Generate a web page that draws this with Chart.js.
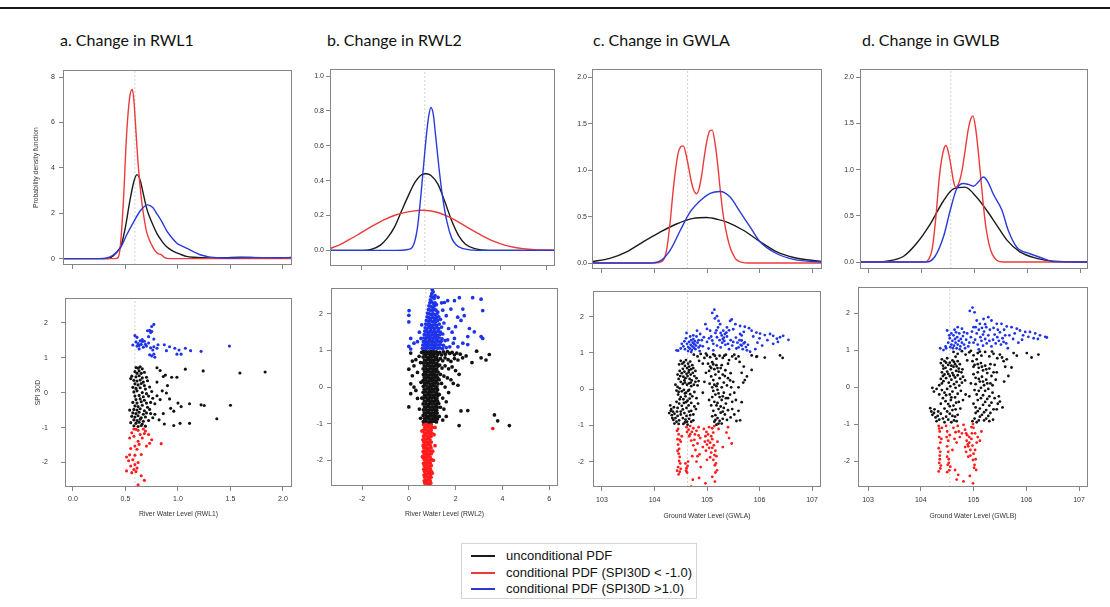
<!DOCTYPE html>
<html lang="en">
<head>
<meta charset="utf-8">
<title>Water level response to SPI30D</title>
<script src="https://cdn.jsdelivr.net/npm/chart.js@4.4.1/dist/chart.umd.min.js"></script>
<style>
  html, body { margin: 0; padding: 0; background: #fff; }
  body { position: relative; width: 1110px; height: 607px; overflow: hidden; }
  #rule { position: absolute; left: 0; top: 7px; width: 1110px; height: 2px; background: #1a1a1a; }
  .panel-title { position: absolute; top: 31px; font: 16px Lato, 'Open Sans', sans-serif; line-height: 18px; color: #111; white-space: nowrap; }
  canvas { position: absolute; }
  #legend { position: absolute; left: 461px; top: 543px; width: 236px; height: 56px; box-sizing: border-box; border: 1px solid #d4d4d4; font: 13px 'Liberation Sans', Arial, sans-serif; color: #111; }
  #legend .row { position: absolute; left: 0; height: 16px; line-height: 16px; white-space: nowrap; }
  #legend .swatch { position: absolute; left: 9px; top: 7px; width: 24px; height: 2px; }
  #legend .label { position: absolute; left: 44px; top: 0; }
</style>
</head>
<body>
<div id="rule"></div>
<div id="legend"></div>
<script>
// ---------- titles, axis labels, legend ----------
const panelTitles = ['a. Change in RWL1', 'b. Change in RWL2', 'c. Change in GWLA', 'd. Change in GWLB'];
const xAxisTitles = ['River Water Level (RWL1)', 'River Water Level (RWL2)', 'Ground Water Level (GWLA)', 'Ground Water Level (GWLB)'];
const densityTitle = 'Probability density function';
const spiTitle = 'SPI 30D';
const seriesNames = ['unconditional PDF', 'conditional PDF (SPI30D < -1.0)', 'conditional PDF (SPI30D >1.0)'];

// ---------- tick labels ----------
const rwl1Ticks = ['0.0', '0.5', '1.0', '1.5', '2.0'];
const rwl2Ticks = ['-2', '0', '2', '4', '6'];
const gwlTicks = ['103', '104', '105', '106', '107'];
const densTicksRwl1 = ['0', '2', '4', '6', '8'];
const densTicksRwl2 = ['0.0', '0.2', '0.4', '0.6', '0.8', '1.0'];
const densTicksGwl = ['0.0', '0.5', '1.0', '1.5', '2.0'];
const spiTicks = ['-2', '-1', '0', '1', '2'];

// ---------- reference level (dotted vertical line) per variable ----------
const refLevels = [0.59, 0.73, 104.63, 104.55];

// ---------- density curves, flat [x, density, x, density, ...] ----------
const rwl1Uncond = [-0.1,0, .30,0, .36,.05, .41,.25, .46,.6, .50,1.4, .54,2.5, .58,3.4, .61,3.7, .64,3.45, .67,2.85, .70,2.25, .72,1.96, .76,1.5, .80,1.1, .85,.75, .89,.53, .94,.36, .99,.25, 1.04,.16, 1.08,.1, 1.15,.06, 1.3,.03, 1.45,.04, 1.6,.06, 1.75,.04, 1.9,.03, 2.0,.04, 2.09,.05];
const rwl1Dry = [-0.1,0, .40,0, .43,.05, .45,.5, .48,2.5, .51,5.4, .54,7.1, .565,7.45, .58,7.0, .60,5.6, .62,4.2, .65,2.7, .67,2.0, .70,1.2, .73,.8, .75,.6, .78,.35, .81,.22, .84,.18, .87,.06, .90,.01, .95,0, 2.09,0];
const rwl1Wet = [-0.1,0, .25,0, .32,.03, .38,.15, .45,.46, .51,1.03, .57,1.55, .64,2.1, .71,2.37, .76,2.25, .80,1.97, .85,1.6, .89,1.25, .94,.93, .99,.68, 1.04,.55, 1.08,.46, 1.15,.3, 1.21,.17, 1.28,.09, 1.34,.05, 1.5,.03, 1.7,.05, 1.9,.04, 2.09,.05];

const rwl2Uncond = [-3.4,0, -2,0, -1.6,.005, -1.2,.03, -.9,.07, -.6,.13, -.3,.22, 0,.31, .3,.39, .6,.435, .8,.44, 1.0,.43, 1.3,.38, 1.6,.28, 1.9,.17, 2.2,.085, 2.5,.035, 2.9,.01, 3.5,0, 6.4,0];
const rwl2Dry = [-3.4,.01, -3,.03, -2.6,.058, -2.2,.088, -1.8,.12, -1.4,.15, -1.0,.178, -.6,.2, -.2,.215, .2,.225, .6,.23, 1.0,.226, 1.4,.213, 1.8,.19, 2.2,.162, 2.6,.13, 3.0,.1, 3.4,.072, 3.8,.048, 4.2,.03, 4.6,.018, 5.0,.01, 5.5,.004, 6.4,.001];
const rwl2Wet = [-3.4,0, -.5,0, 0,.005, .2,.02, .4,.12, .55,.3, .7,.52, .8,.66, .9,.77, 1.0,.82, 1.1,.78, 1.2,.66, 1.35,.47, 1.5,.31, 1.7,.16, 1.9,.07, 2.1,.03, 2.4,.01, 3,0, 6.4,0];

const gwlaUncond = [102.8,.015, 103.15,.05, 103.47,.12, 103.79,.23, 104.1,.33, 104.42,.42, 104.74,.48, 104.99,.49, 105.2,.47, 105.38,.44, 105.7,.35, 106.01,.23, 106.33,.12, 106.65,.06, 106.9,.035, 107.2,.015];
const gwlaDry = [102.8,0, 104.0,0, 104.15,.02, 104.23,.14, 104.30,.45, 104.35,.75, 104.40,1.0, 104.45,1.18, 104.50,1.25, 104.55,1.26, 104.60,1.17, 104.65,1.03, 104.70,.88, 104.75,.78, 104.80,.745, 104.85,.8, 104.90,.95, 104.95,1.15, 105.0,1.32, 105.05,1.42, 105.10,1.43, 105.15,1.3, 105.20,1.08, 105.25,.8, 105.30,.55, 105.35,.38, 105.40,.25, 105.45,.15, 105.50,.09, 105.55,.04, 105.65,.01, 105.8,0, 107.2,0];
const gwlaWet = [102.8,0, 103.9,0, 104.1,.02, 104.3,.14, 104.49,.35, 104.68,.55, 104.87,.67, 105.06,.75, 105.25,.77, 105.44,.71, 105.63,.55, 105.82,.39, 106.01,.23, 106.33,.1, 106.65,.04, 107.2,.01];

const gwlbUncond = [102.8,0, 103.1,0, 103.34,.01, 103.65,.06, 103.9,.2, 104.16,.41, 104.41,.66, 104.6,.79, 104.82,.81, 105.04,.70, 105.23,.56, 105.42,.40, 105.61,.24, 105.86,.11, 106.18,.04, 106.49,.01, 107.2,0];
const gwlbDry = [102.8,0, 104.05,0, 104.12,.02, 104.20,.15, 104.27,.5, 104.33,.9, 104.38,1.12, 104.43,1.24, 104.46,1.26, 104.50,1.2, 104.55,1.05, 104.60,.88, 104.64,.81, 104.70,.85, 104.76,.98, 104.82,1.2, 104.88,1.43, 104.93,1.55, 104.97,1.58, 105.02,1.45, 105.07,1.2, 105.12,.9, 105.17,.6, 105.22,.36, 105.28,.18, 105.34,.08, 105.42,.02, 105.55,0, 107.2,0];
const gwlbWet = [102.8,0, 104.09,0, 104.25,.06, 104.41,.27, 104.54,.56, 104.66,.79, 104.79,.85, 104.88,.84, 104.98,.82, 105.08,.87, 105.17,.92, 105.25,.87, 105.36,.73, 105.52,.56, 105.64,.34, 105.80,.16, 106.05,.09, 106.30,.04, 106.49,.005, 107.2,0];

// ---------- daily observations, flat [level, SPI30D, ...] ----------
const rwl1Wet_pts = [.59,1.63, .61,1.58, .60,1.45, .62,1.40, .63,1.35, .61,1.33, .64,1.48, .66,1.46, .68,1.47, .65,1.38, .67,1.30, .70,1.33, .72,1.42, .71,1.77, .73,1.78, .74,1.72, .75,1.89, .77,1.95, .75,1.75, .77,1.53, .77,1.31, .74,1.28, .76,1.22, .80,1.27, .75,1.05, .77,1.10, .78,1.01, .73,1.08, .81,1.37, .87,1.37, .89,1.20, .92,1.31, .97,1.27, 1.01,1.22, .99,1.10, 1.03,1.10, 1.07,1.27, 1.12,1.20, 1.22,1.18, 1.49,1.33, .63,1.25, .69,1.38, .57,1.36, .66,1.52, .72,1.60];
const rwl1Mid_pts = [.60,.72, .62,.70, .64,.74, .66,.68, .59,.60, .63,.62, .61,.55, .65,.55, .68,.58, .56,.47, .60,.45, .63,.48, .66,.42, .70,.44, .58,.35, .61,.33, .64,.36, .67,.30, .71,.34, .59,.25, .62,.22, .65,.26, .68,.20, .57,.15, .60,.12, .64,.14, .69,.10, .73,.16, .58,.02, .61,.05, .66,0, .70,-.03, .75,.03, .59,-.10, .63,-.08, .67,-.12, .72,-.10, .60,-.20, .64,-.18, .68,-.22, .76,-.16, .57,-.28, .61,-.30, .65,-.26, .70,-.30, .74,-.28, .78,-.32, .59,-.38, .62,-.40, .66,-.36, .71,-.42, .58,-.48, .61,-.50, .64,-.46, .68,-.52, .73,-.48, .57,-.58, .60,-.60, .63,-.56, .67,-.62, .70,-.58, .56,-.68, .59,-.70, .62,-.66, .65,-.72, .69,-.70, .58,-.78, .61,-.80, .64,-.76, .67,-.82, .55,-.86, .60,-.88, .63,-.85, .66,-.90, .58,-.95, .62,-.97, .65,-.94, .69,-.96, .54,-.50, .55,.40, .74,-.60, .76,-.72, .72,-.80,
  .80,.71, .83,.63, .86,.46, .88,.50, .94,.44, .99,.44, 1.07,.67, 1.24,.62, 1.59,.56, 1.83,.59, .80,-.09, .83,-.20, .89,-.01, .93,-.45, .96,-.53, 1.0,-.30, 1.03,-.40, 1.11,-.32, 1.22,-.35, 1.25,-.37, 1.50,-.36, 1.37,-.75, 1.11,-.88, 1.02,-.88, .96,-.94, .87,-.90, .82,-.78, .78,-.62, .85,.05, .80,.30, .90,.20, .86,-.60, .92,-.18];
const rwl1Dry_pts = [.58,-1.04, .60,-1.05, .62,-1.08, .67,-1.04, .69,-1.10, .68,-1.17, .72,-1.20, .54,-1.30, .58,-1.25, .62,-1.39, .66,-1.30, .75,-1.35, .59,-1.53, .63,-1.48, .70,-1.53, .73,-1.45, .84,-1.46, .55,-1.60, .61,-1.62, .51,-1.84, .54,-1.78, .59,-1.79, .65,-1.77, .57,-1.92, .59,-2.06, .62,-2.00, .55,-2.10, .51,-2.24, .56,-2.29, .58,-2.20, .61,-2.16, .60,-2.26, .65,-2.38, .68,-2.51, .62,-2.64, .53,-1.95, .64,-1.20, .56,-1.15];

const rwl2Wet_pts = [1.0,2.66, 1.04,2.6, .98,2.55, .95,2.48, 1.02,2.45, 1.08,2.42, .92,2.38, 1.12,2.5,
  .9,2.3, .98,2.33, 1.05,2.28, 1.12,2.3, .86,2.22, .95,2.2, 1.02,2.18, 1.1,2.22, 1.18,2.25,
  .84,2.12, .92,2.1, 1.0,2.08, 1.08,2.12, 1.16,2.1, 1.24,2.05, .8,2.02, .88,2.0, .96,1.98, 1.04,2.0, 1.12,1.97, 1.2,2.0,
  .78,1.92, .86,1.9, .94,1.88, 1.02,1.9, 1.1,1.87, 1.18,1.9, 1.28,1.92, .75,1.82, .83,1.8, .91,1.82, .99,1.79, 1.07,1.8, 1.15,1.78, 1.23,1.82, 1.35,1.85,
  .72,1.72, .8,1.7, .88,1.72, .96,1.68, 1.04,1.7, 1.12,1.7, 1.2,1.68, 1.3,1.72, .7,1.62, .78,1.6, .86,1.63, .94,1.6, 1.02,1.62, 1.1,1.6, 1.18,1.62, 1.28,1.6, 1.4,1.64,
  .68,1.53, .76,1.52, .84,1.5, .92,1.53, 1.0,1.5, 1.08,1.52, 1.16,1.5, 1.25,1.53, 1.35,1.5, .66,1.43, .74,1.42, .82,1.44, .9,1.41, .98,1.43, 1.06,1.42, 1.14,1.44, 1.22,1.41, 1.32,1.43, 1.45,1.45,
  .64,1.34, .72,1.33, .8,1.35, .88,1.32, .96,1.34, 1.04,1.33, 1.12,1.35, 1.2,1.32, 1.3,1.34, 1.42,1.32, .62,1.24, .7,1.25, .78,1.23, .86,1.26, .94,1.24, 1.02,1.25, 1.1,1.23, 1.18,1.26, 1.27,1.24, 1.38,1.25, 1.55,1.27,
  .6,1.15, .68,1.16, .76,1.14, .84,1.17, .92,1.15, 1.0,1.16, 1.08,1.14, 1.16,1.17, 1.25,1.15, 1.35,1.16, 1.48,1.14, .58,1.06, .66,1.07, .74,1.05, .82,1.08, .9,1.06, .98,1.07, 1.06,1.05, 1.14,1.08, 1.22,1.06, 1.32,1.07, 1.44,1.05, 1.6,1.08, 1.75,1.1,
  2.73,2.44, 3.09,2.40, 3.16,2.09, 2.16,2.44, 2.31,2.13, 1.95,2.36, 1.52,2.31, 1.66,2.36, 1.8,2.13, 2.09,1.91, 2.23,1.82, 2.37,1.95, 2.59,1.6, 2.8,1.51, 3.09,1.38, 3.16,1.33, 2.52,1.38, 2.31,1.2, 1.95,1.33, 1.66,1.29, 2.52,1.16, 1.45,2.1, 1.6,1.95, 1.5,1.75, 1.7,1.6, 1.85,1.5, 2.0,1.65, 1.9,1.2, 2.1,1.1, 1.4,2.3, 1.25,2.45,
  .01,2.09, 0,1.96, 0,1.78, .08,1.33, 0,1.11, .08,1.04, .22,1.2, .37,1.24, .52,1.33, .45,1.5, .55,1.7];
const rwl2Mid_pts = [.62,.97, .72,.98, .84,.96, .95,.97, 1.06,.98, 1.18,.96,
  .66,.90, .78,.91, .90,.89, 1.01,.90, 1.12,.91, 1.24,.89,
  .61,.82, .73,.83, .85,.81, .96,.82, 1.08,.83, 1.19,.81,
  .67,.74, .79,.75, .90,.73, 1.02,.74, 1.13,.75, 1.25,.73,
  .62,.66, .74,.67, .85,.65, .97,.66, 1.08,.67, 1.20,.65,
  .66,.58, .78,.59, .89,.57, 1.01,.58, 1.13,.59, 1.24,.57,
  .61,.50, .73,.51, .85,.49, .96,.50, 1.08,.51, 1.19,.49,
  .67,.42, .79,.43, .90,.41, 1.02,.42, 1.14,.43, 1.25,.41,
  .62,.34, .74,.35, .86,.33, .97,.34, 1.09,.35, 1.20,.33,
  .66,.26, .78,.27, .89,.25, 1.01,.26, 1.13,.27, 1.24,.25,
  .61,.18, .73,.19, .85,.17, .96,.18, 1.08,.19, 1.19,.17,
  .67,.10, .79,.11, .90,.09, 1.02,.10, 1.14,.11, 1.25,.09,
  .62,.02, .74,.03, .86,.01, .97,.02, 1.09,.03, 1.20,.01,
  .66,-.06, .78,-.05, .89,-.07, 1.01,-.06, 1.13,-.05, 1.23,-.07,
  .61,-.14, .73,-.13, .85,-.15, .96,-.14, 1.08,-.13, 1.19,-.15,
  .67,-.22, .79,-.21, .90,-.23, 1.02,-.22, 1.14,-.21, 1.24,-.23,
  .62,-.30, .74,-.29, .86,-.31, .97,-.30, 1.09,-.29, 1.20,-.31,
  .66,-.38, .78,-.37, .89,-.39, 1.01,-.38, 1.13,-.37, 1.23,-.39,
  .61,-.46, .73,-.45, .85,-.47, .96,-.46, 1.08,-.45, 1.18,-.47,
  .67,-.54, .79,-.53, .90,-.55, 1.02,-.54, 1.14,-.53, 1.22,-.55,
  .62,-.62, .74,-.61, .86,-.63, .97,-.62, 1.09,-.61, 1.19,-.63,
  .66,-.70, .78,-.69, .89,-.71, 1.01,-.70, 1.13,-.69, 1.21,-.71,
  .61,-.78, .73,-.77, .85,-.79, .96,-.78, 1.08,-.77, 1.17,-.79,
  .67,-.86, .79,-.85, .90,-.87, 1.02,-.86, 1.14,-.85, 1.22,-.87,
  .62,-.94, .74,-.93, .86,-.95, .97,-.94, 1.09,-.93, 1.18,-.95,
  1.32,.95, 1.40,.88, 1.48,.96, 1.56,.90, 1.65,.97, 1.75,.92, 1.85,.95, 1.95,.88, 2.05,.93, 2.2,.9, 1.35,.78, 1.45,.72, 1.55,.80, 1.68,.75, 1.8,.70, 1.95,.78, 2.1,.74, 2.3,.80, 2.45,.85, 1.32,.6, 1.42,.52, 1.55,.58, 1.7,.5, 1.85,.55, 2.0,.45, 2.15,.35, 1.35,.35, 1.5,.30, 1.65,.25, 1.8,.2, 1.4,.1, 1.55,0, 1.3,-.2, 1.45,-.3, 1.6,-.4, 1.35,-.55, 1.5,-.6, 1.3,-.8, 1.45,-.9, 1.6,-.8, 1.7,-.15, 1.9,.1, 2.1,.05, 1.3,.2, 1.28,-.45,
  .08,.93, .15,.71, 0,.49, .15,.31, .08,.09, .22,0, .30,-.09, .08,-.18, 0,-.54, .37,.4, .44,.84, .52,.13, .37,-.31, .5,.67, .22,.58, .45,-.6, .5,-.85, .55,.95, .3,.75, .55,-.3,
  3.66,-.76, 3.80,-.92, 4.3,-1.05, 2.23,-.65, 2.52,-.64, 2.15,-1.05, 3.09,.8, 3.30,.74, 3.44,.89, 2.7,.67, 2.9,.98];
const rwl2Dry_pts = [.63,-1.02, .74,-1.01, .85,-1.03, .96,-1.02,
  .68,-1.10, .79,-1.09, .90,-1.11, 1.01,-1.10,
  .62,-1.18, .73,-1.17, .84,-1.19, .95,-1.18,
  .67,-1.26, .78,-1.25, .89,-1.27, .99,-1.26,
  .63,-1.34, .74,-1.33, .85,-1.35, .95,-1.34,
  .68,-1.42, .79,-1.41, .90,-1.43, .60,-1.44,
  .64,-1.50, .75,-1.49, .86,-1.51, .96,-1.50,
  .69,-1.58, .80,-1.57, .91,-1.59, .61,-1.60,
  .64,-1.66, .75,-1.65, .86,-1.67, .95,-1.66,
  .69,-1.74, .80,-1.73, .90,-1.75, .61,-1.76,
  .65,-1.82, .76,-1.81, .87,-1.83, .96,-1.82,
  .70,-1.90, .81,-1.89, .91,-1.91, .62,-1.92,
  .66,-1.98, .77,-1.97, .88,-1.99, .97,-1.98,
  .71,-2.06, .82,-2.05, .92,-2.07, .63,-2.08,
  .66,-2.14, .77,-2.13, .88,-2.15, .96,-2.14,
  .71,-2.22, .82,-2.21, .92,-2.23, .64,-2.24,
  .67,-2.30, .78,-2.29, .88,-2.31, .96,-2.30,
  .72,-2.38, .82,-2.37, .92,-2.39, .65,-2.40,
  .68,-2.46, .78,-2.45, .88,-2.47, .95,-2.46,
  .72,-2.54, .82,-2.53, .91,-2.55, .66,-2.56,
  .68,-2.62, .78,-2.61, .87,-2.63, .94,-2.62,
  .73,-2.70, .83,-2.69,
  1.08,-1.3, 1.12,-1.6, 1.05,-2.0, 1.12,-1.1, 1.02,-1.75, 1.0,-2.35, .56,-1.2, .58,-1.9, 3.59,-1.13];

const gwlaWet_pts = [104.42,1.07, 104.45,1.06, 104.50,1.12, 104.55,1.18, 104.58,1.10, 104.61,1.55, 104.62,1.25, 104.64,1.16, 104.66,1.30, 104.67,1.12, 104.69,1.22, 104.70,1.35, 104.71,1.08, 104.72,1.18, 104.73,1.28, 104.74,1.38, 104.75,1.14, 104.76,1.24, 104.77,1.32, 104.78,1.10, 104.79,1.20, 104.80,1.45, 104.81,1.61, 104.82,1.28, 104.84,1.15, 104.86,1.05, 104.87,1.20, 104.87,1.52, 104.90,1.35, 104.94,1.43, 104.60,1.40, 104.68,1.45, 104.57,1.32, 104.52,1.25,
  104.97,1.79, 105.00,1.66, 105.00,1.30, 105.03,1.12, 105.06,1.61, 105.08,1.45, 105.10,1.34, 105.10,2.10, 105.12,1.07, 105.14,2.19, 105.15,1.95, 105.16,1.55, 105.19,1.20, 105.19,1.43, 105.19,2.01, 105.21,1.70, 105.22,1.88, 105.24,1.35, 105.25,1.79, 105.26,1.15, 105.28,1.48, 105.29,1.28, 105.30,1.38, 105.31,1.61, 105.32,1.42, 105.33,1.33, 105.35,1.22, 105.37,1.56, 105.38,1.45, 105.40,1.25, 105.42,1.10, 105.44,1.88, 105.45,1.35, 105.47,1.92, 105.48,1.20, 105.50,1.65, 105.54,1.79, 105.55,1.42,
  105.58,1.28, 105.60,1.15, 105.62,1.35, 105.63,1.52, 105.63,1.74, 105.64,1.22, 105.66,1.20, 105.66,1.34, 105.68,1.10, 105.70,1.26, 105.72,1.29, 105.72,1.72, 105.74,1.16, 105.76,1.07, 105.78,1.22, 105.80,1.68, 105.82,1.03, 105.85,1.61,
  105.94,1.56, 106.01,1.53, 106.10,1.49, 106.20,1.52, 106.26,1.47, 106.26,1.25, 106.33,1.39, 106.39,1.43, 106.45,1.47, 106.55,1.36, 106.15,1.35, 106.05,1.20, 105.92,1.10,
  104.64,1.05, 104.70,1.02, 104.74,1.48, 104.84,1.35, 104.92,1.18, 105.04,1.40, 105.12,1.25, 105.18,1.62, 105.26,1.55, 105.34,1.52, 105.38,1.70, 105.42,1.62, 105.50,1.30, 105.56,1.12, 105.66,1.48, 105.70,1.58, 105.88,1.45, 106.00,1.40, 105.96,1.28, 106.35,1.30];
const gwlaMid_pts = [104.50,.78, 104.56,.74, 104.60,.80, 104.64,.70, 104.68,.76, 104.72,.66, 104.58,.64, 104.62,.58, 104.66,.62, 104.70,.55, 104.54,.56, 104.48,.50, 104.52,.44, 104.57,.48, 104.61,.42, 104.65,.46, 104.69,.40, 104.73,.45, 104.76,.36, 104.55,.34, 104.59,.30, 104.63,.36, 104.67,.28, 104.71,.24, 104.80,.30, 104.84,.22, 104.46,.28, 104.50,.20, 104.54,.14, 104.58,.18, 104.62,.12, 104.66,.16, 104.70,.08, 104.75,.12, 104.44,.06, 104.48,.02, 104.40,.12, 104.42,-.04,
  104.52,-.06, 104.56,-.02, 104.60,-.10, 104.64,-.05, 104.68,-.14, 104.72,-.20, 104.45,-.15, 104.50,-.22, 104.55,-.28, 104.59,-.20, 104.63,-.32, 104.67,-.26, 104.42,-.35, 104.47,-.40, 104.52,-.46, 104.56,-.38, 104.61,-.52, 104.65,-.45, 104.70,-.60, 104.74,-.70, 104.57,-.66, 104.61,-.74, 104.66,-.82, 104.70,-.90, 104.58,-.92, 104.63,-.98, 104.54,-.80, 104.79,-.55, 104.83,-.40,
  104.30,-.45, 104.32,-.55, 104.35,-.62, 104.33,-.72, 104.38,-.68, 104.40,-.80, 104.44,-.74, 104.36,-.85, 104.42,-.90, 104.47,-.86, 104.50,-.62, 104.28,-.66,
  104.47,.68, 104.53,.70, 104.66,.52, 104.74,.58, 104.78,.50, 104.44,.40, 104.49,.36, 104.57,.24, 104.69,.18, 104.78,.20, 104.82,.10, 104.46,-.08, 104.58,-.12, 104.66,-.02, 104.76,-.08, 104.80,-.25, 104.48,-.28, 104.60,-.36, 104.70,-.38, 104.76,-.48, 104.44,-.52, 104.54,-.56, 104.66,-.62, 104.50,-.70, 104.59,-.84, 104.68,-.72, 104.74,-.86, 104.62,-.90, 104.55,-.96, 104.46,-.96, 104.38,-.95, 104.34,-.80, 104.31,-.60, 104.37,-.50, 104.43,-.62,
  105.02,.70, 105.06,.62, 105.10,.74, 105.14,.55, 105.18,.66, 105.22,.48, 105.26,.58, 105.30,.40, 105.35,.52, 105.40,.30, 105.45,.44, 105.50,.20, 105.08,.35, 105.12,.25, 105.16,.40, 105.20,.15, 105.24,.30, 105.28,.05, 105.32,.18, 105.12,-.05, 105.16,-.15, 105.20,-.02, 105.24,-.22, 105.28,-.30, 105.32,-.10, 105.36,-.40, 105.40,-.25, 105.48,-.35, 105.55,-.30, 105.14,-.35, 105.18,-.45, 105.22,-.55, 105.26,-.48, 105.30,-.62, 105.34,-.70, 105.12,-.60, 105.16,-.72, 105.20,-.80, 105.24,-.88, 105.28,-.95, 105.14,-.90, 105.18,-.98, 105.38,-.85, 105.45,-.78, 105.56,-.88, 105.63,-.86, 105.10,.05, 105.05,.15, 104.98,.45, 104.95,.20, 104.92,-.10,
  105.04,.50, 105.08,.58, 105.12,.68, 105.20,.58, 105.28,.66, 105.34,.36, 105.44,.24, 105.38,.10, 105.46,.05, 105.52,-.10, 105.44,-.15, 105.36,-.25, 105.30,-.20, 105.22,-.12, 105.18,.08, 105.14,.12, 105.10,-.22, 105.20,-.38, 105.26,-.65, 105.32,-.52, 105.40,-.58, 105.48,-.55, 105.52,-.70, 105.30,-.82, 105.22,-.95, 105.16,-.85, 105.10,-.75, 105.08,-.45, 105.04,-.30, 105.60,-.60,
  104.75,.95, 104.82,.90, 104.88,.97, 104.95,.86, 105.00,.93, 105.06,.88, 105.12,.96, 105.18,.84, 105.24,.92, 105.30,.86, 105.36,.95, 105.42,.80, 105.48,.90, 105.55,.84, 105.62,.75, 105.70,.62, 105.76,.35, 105.69,.18, 105.66,-.36, 104.85,.78, 104.92,.70, 105.40,.70,
  104.98,.98, 105.15,.92, 105.33,.92, 105.52,.95, 105.60,.90, 105.66,.45, 105.72,.25, 105.60,.05,
  105.85,.93, 105.94,.89, 106.10,.87, 106.39,.93, 106.44,.86, 105.85,.53, 105.95,.90];
const gwlaDry_pts = [104.45,-1.10, 104.46,-1.25, 104.44,-1.38, 104.45,-1.53, 104.47,-1.65, 104.46,-1.78, 104.48,-1.87, 104.47,-1.98, 104.45,-2.15, 104.48,-2.28, 104.50,-2.20, 104.43,-2.25, 104.50,-1.45, 104.52,-1.30,
  104.59,-2.05, 104.61,-2.18, 104.62,-2.30, 104.63,-2.12, 104.60,-2.25, 104.64,-2.00,
  104.61,-1.05, 104.65,-1.12, 104.68,-1.02, 104.71,-1.18, 104.74,-1.08, 104.77,-1.25, 104.80,-1.15, 104.84,-1.05, 104.87,-1.35, 104.66,-1.30, 104.70,-1.42, 104.74,-1.55, 104.78,-1.68, 104.82,-1.50, 104.86,-1.80, 104.72,-1.85, 104.80,-2.00, 104.88,-2.15, 104.92,-1.60,
  104.94,-1.10, 104.97,-1.30, 105.00,-1.53, 105.02,-1.42, 105.04,-1.62, 105.06,-1.48, 105.08,-1.75, 105.10,-1.08, 105.12,-1.20, 105.14,-1.02, 105.10,-1.38, 105.13,-1.55, 105.16,-1.70, 105.18,-1.85, 105.12,-1.95, 105.15,-2.10, 105.19,-2.24, 105.17,-2.05, 105.06,-1.88, 105.02,-1.25, 104.98,-1.70,
  105.37,-1.20, 105.42,-1.35, 105.47,-1.50, 105.40,-1.05, 105.30,-1.60,
  104.43,-1.15, 104.48,-1.40, 104.44,-1.70, 104.49,-2.05, 104.46,-2.35, 104.62,-1.18, 104.68,-1.25, 104.76,-1.40, 104.84,-1.28, 104.82,-1.85, 104.96,-1.45, 104.99,-1.18, 105.04,-1.05, 105.08,-1.30, 105.14,-1.82, 105.10,-1.62, 105.20,-1.45, 105.22,-1.10, 105.16,-2.30, 105.00,-1.95,
  104.73,-2.50, 104.97,-2.60, 104.70,-2.69, 105.10,-2.42, 104.85,-2.45, 105.15,-2.55];

const gwlbWet_pts = [104.37,1.05, 104.43,1.00, 104.47,1.10, 104.50,1.53, 104.52,1.20, 104.55,1.32, 104.56,1.08, 104.58,1.15, 104.60,1.25, 104.62,1.40, 104.63,1.12, 104.65,1.30, 104.66,1.20, 104.68,1.05, 104.69,1.35, 104.70,1.15, 104.72,1.25, 104.73,1.45, 104.75,1.10, 104.76,1.30, 104.78,1.20, 104.80,1.38, 104.82,1.15, 104.84,1.05, 104.86,1.28, 104.64,1.55, 104.70,1.62, 104.58,1.45, 104.88,1.45, 104.78,1.58,
  104.93,2.06, 104.98,2.15, 105.02,2.02, 104.92,1.20, 104.95,1.35, 104.97,1.50, 105.00,1.62, 105.03,1.28, 105.06,1.80, 105.06,1.45, 105.08,1.15, 105.10,1.55, 105.12,1.71, 105.13,1.35, 105.15,1.25, 105.16,1.60, 105.18,1.42, 105.19,1.84, 105.20,1.50, 105.22,1.30, 105.24,1.62, 105.25,1.18, 105.28,1.89, 105.28,1.40, 105.31,1.55, 105.34,1.80, 105.34,1.10,
  105.37,1.28, 105.40,1.42, 105.42,1.18, 105.44,1.71, 105.45,1.35, 105.48,1.25, 105.50,1.48, 105.52,1.15, 105.53,1.71, 105.55,1.32, 105.57,1.22, 105.60,1.40, 105.62,1.18, 105.63,1.64, 105.65,1.05,
  105.72,1.62, 105.82,1.58, 105.88,1.53, 105.94,1.40, 105.98,1.49, 106.04,1.36, 106.07,1.49, 106.14,1.32, 106.17,1.45, 106.26,1.40, 106.36,1.36, 106.39,1.34, 105.75,1.30, 105.85,1.20,
  104.48,1.05, 104.54,1.40, 104.61,1.05, 104.67,1.48, 104.74,1.02, 104.82,1.48, 104.90,1.10, 105.00,1.20, 105.04,1.62, 105.10,1.02, 105.18,1.12, 105.22,1.70, 105.30,1.25, 105.38,1.60, 105.46,1.55, 105.58,1.55, 105.68,1.40, 105.78,1.45, 105.92,1.28, 106.22,1.30];
const gwlbMid_pts = [104.40,.75, 104.45,.70, 104.50,.78, 104.55,.66, 104.60,.72, 104.65,.62, 104.70,.70, 104.42,.58, 104.47,.52, 104.52,.60, 104.57,.48, 104.62,.55, 104.67,.44, 104.72,.50, 104.77,.40, 104.40,.40, 104.45,.34, 104.50,.42, 104.55,.30, 104.60,.38, 104.65,.26, 104.70,.32, 104.75,.22, 104.80,.28, 104.38,.22, 104.43,.16, 104.48,.24, 104.53,.12, 104.58,.20, 104.63,.08, 104.68,.14, 104.73,.04, 104.35,.05, 104.30,-.05, 104.25,-.12, 104.22,-.02,
  104.40,-.08, 104.45,-.15, 104.50,-.05, 104.55,-.20, 104.60,-.12, 104.65,-.28, 104.42,-.30, 104.47,-.38, 104.52,-.46, 104.57,-.35, 104.62,-.50, 104.67,-.42, 104.45,-.58, 104.50,-.66, 104.55,-.72, 104.60,-.62, 104.65,-.80, 104.52,-.88, 104.58,-.95, 104.63,-.90, 104.70,-.75, 104.75,-.58, 104.80,-.35, 104.85,-.20,
  104.18,-.57, 104.20,-.66, 104.22,-.75, 104.25,-.70, 104.28,-.82, 104.32,-.78, 104.35,-.88, 104.38,-.72, 104.42,-.85,
  104.38,.65, 104.43,.50, 104.48,.66, 104.58,.58, 104.63,.68, 104.68,.56, 104.74,.62, 104.79,.48, 104.42,.30, 104.52,.36, 104.62,.32, 104.72,.42, 104.78,.12, 104.84,.18, 104.40,.10, 104.56,.02, 104.66,-.02, 104.76,-.10, 104.35,-.20, 104.48,-.22, 104.58,-.28, 104.70,-.18, 104.38,-.45, 104.55,-.52, 104.66,-.60, 104.72,-.40, 104.48,-.80, 104.60,-.78, 104.68,-.92, 104.45,-.95, 104.30,-.92, 104.26,-.60, 104.33,-.66,
  104.98,.70, 105.02,.60, 105.06,.75, 105.10,.52, 105.14,.65, 105.18,.45, 105.22,.58, 105.26,.38, 105.30,.50, 105.34,.30, 105.00,.35, 105.04,.25, 105.08,.40, 105.12,.15, 105.16,.28, 105.20,.05, 105.24,.20, 105.28,-.05, 105.32,.10, 105.36,-.15, 105.02,-.08, 105.06,-.20, 105.10,-.10, 105.14,-.30, 105.18,-.22, 105.22,-.40, 105.26,-.32, 105.30,-.50, 105.34,-.42, 105.00,-.45, 105.04,-.55, 105.08,-.65, 105.12,-.58, 105.16,-.75, 105.20,-.68, 105.24,-.85, 105.28,-.78, 105.02,-.85, 105.06,-.95, 105.10,-.90, 105.37,-.88, 105.44,-.60, 105.50,-.39, 104.95,.10, 104.92,-.25,
  105.00,.55, 105.08,.62, 105.16,.55, 105.24,.48, 105.32,.62, 105.38,.40, 105.42,.20, 105.36,.05, 105.26,.10, 105.18,.15, 105.10,.22, 105.04,.08, 105.14,-.02, 105.22,-.10, 105.30,-.25, 105.40,-.30, 105.46,-.45, 105.38,-.60, 105.32,-.70, 105.24,-.62, 105.18,-.48, 105.08,-.35, 105.12,-.80, 105.20,-.90, 105.30,-.92, 105.04,-.70, 104.98,-.92, 105.48,-.25, 105.55,-.55,
  104.62,.95, 104.70,.90, 104.78,.97, 104.85,.88, 104.92,.94, 105.00,.86, 105.08,.92, 105.15,.85, 105.22,.95, 105.30,.83, 105.38,.90, 105.45,.78, 105.50,.88, 105.57,.70, 105.63,.75, 105.44,.40, 105.72,.53, 104.88,.72, 105.40,.60,
  104.66,.82, 104.95,.98, 105.12,.96, 105.35,.96, 105.54,.80, 105.60,.55, 105.66,.30, 105.58,.15,
  105.76,.92, 106.01,.92, 106.23,.88, 105.82,.85, 106.10,.80];
const gwlbDry_pts = [104.34,-1.05, 104.36,-1.20, 104.35,-1.35, 104.37,-1.50, 104.34,-1.65, 104.36,-1.85, 104.35,-2.05, 104.37,-2.20, 104.34,-2.28, 104.39,-1.40, 104.40,-1.10,
  104.48,-1.05, 104.50,-1.20, 104.52,-1.45, 104.50,-1.60, 104.53,-1.95, 104.51,-2.10, 104.54,-2.25, 104.50,-2.30, 104.56,-2.15, 104.55,-1.30,
  104.62,-1.10, 104.66,-1.22, 104.70,-1.05, 104.74,-1.35, 104.68,-1.50, 104.60,-1.70,
  104.81,-1.02, 104.84,-1.15, 104.87,-1.45, 104.88,-1.30, 104.90,-1.60, 104.92,-1.50, 104.94,-1.70, 104.96,-1.08, 104.99,-1.00, 104.96,-1.40, 104.98,-1.58, 105.00,-1.80, 104.86,-1.75, 104.90,-1.88, 105.03,-1.25, 105.06,-1.50, 104.99,-1.97, 105.02,-2.10, 105.05,-2.24, 105.01,-2.18, 105.12,-1.45, 105.15,-1.20, 104.78,-1.25,
  104.35,-1.12, 104.37,-1.75, 104.36,-1.95, 104.38,-2.12, 104.49,-1.35, 104.52,-1.75, 104.50,-1.88, 104.53,-2.05, 104.86,-1.25, 104.89,-1.55, 104.92,-1.35, 104.94,-1.85, 104.97,-1.25, 105.00,-1.10, 105.03,-1.70, 105.08,-1.35, 105.04,-1.95, 104.84,-1.62, 104.72,-1.20, 104.64,-1.40,
  104.68,-2.50, 104.81,-2.55, 104.99,-2.60, 104.65,-2.24, 104.71,-2.37, 104.93,-2.40];

// ---------- styling ----------
const COL = { black: '#1b1b1b', red: '#ee3a3a', blue: '#2a3ad8', ptBlack: '#121212', ptRed: '#ff1c1c', ptBlue: '#1d34ea', frame: '#858585', ref: '#d2d2d2', text: '#333' };
const seriesColors = [COL.black, COL.red, COL.blue];
const FONT = "'Liberation Sans', Arial, sans-serif";

function xy(flat) {
  const out = [];
  for (let i = 0; i < flat.length; i += 2) out.push({ x: flat[i], y: flat[i + 1] });
  return out;
}
function curve(flat, color, order) {
  return { data: xy(flat), showLine: true, borderColor: color, borderWidth: 1.4, pointRadius: 0, cubicInterpolationMode: 'monotone', order };
}
function cloud(flat, color, r) {
  return { data: xy(flat), showLine: false, pointRadius: r, borderWidth: 0, pointBorderWidth: 0, backgroundColor: color, pointBackgroundColor: color, order: 1 };
}
function refLine(x, lo, hi) {
  return { data: [{ x, y: lo }, { x, y: hi }], showLine: true, borderColor: COL.ref, borderWidth: 1, borderDash: [2, 2], pointRadius: 0, order: 10 };
}

// plot-region box drawn over the data, like a base-graphics frame
const framePlugin = {
  id: 'frame',
  afterDraw(chart) {
    const { ctx, chartArea: a } = chart;
    ctx.save();
    ctx.strokeStyle = COL.frame;
    ctx.lineWidth = 1;
    ctx.strokeRect(Math.round(a.left) + 0.5, Math.round(a.top) + 0.5, Math.round(a.right - a.left) - 1, Math.round(a.bottom - a.top) - 1);
    ctx.restore();
  }
};

function panel(p) {
  const YW = 45, PT = 4, PR = 4, XH = p.xTitle ? 38 : 12;
  const [L, T, R, B] = p.box;
  const w = R - L + YW + PR, h = B - T + PT + XH;
  const cv = document.createElement('canvas');
  cv.width = w; cv.height = h;
  Object.assign(cv.style, { left: (L - YW) + 'px', top: (T - PT) + 'px', width: w + 'px', height: h + 'px' });
  document.body.appendChild(cv);
  const font = s => ({ family: FONT, size: s });
  new Chart(cv, {
    type: 'scatter',
    data: { datasets: p.datasets },
    options: {
      responsive: false, animation: false, devicePixelRatio: 1, events: [],
      layout: { padding: { left: 0, top: PT, right: PR, bottom: 0 } },
      plugins: { legend: { display: false }, tooltip: { enabled: false } },
      scales: {
        x: {
          type: 'linear', min: p.xRange[0], max: p.xRange[1],
          afterBuildTicks: s => { s.ticks = p.xTicks.map(t => ({ value: +t })); },
          afterFit: s => { s.height = XH; },
          grid: { drawOnChartArea: false, color: COL.frame, tickLength: 4 },
          border: { display: false },
          ticks: { display: !!p.xTitle, autoSkip: false, maxRotation: 0, minRotation: 0, padding: p.xTickPad || 4, color: COL.text, font: font(7), callback: (v, i) => p.xTicks[i] },
          title: { display: !!p.xTitle, text: p.xTitle || '', color: COL.text, font: font(6.8), padding: { top: 0, bottom: p.xTitlePad || 5 } }
        },
        y: {
          type: 'linear', min: p.yRange[0], max: p.yRange[1],
          afterBuildTicks: s => { s.ticks = p.yTicks.map(t => ({ value: +t })); },
          afterFit: s => { s.width = YW; },
          grid: { drawOnChartArea: false, color: COL.frame, tickLength: 4 },
          border: { display: false },
          ticks: { autoSkip: false, padding: p.yTickPad, color: COL.text, font: font(7), callback: (v, i) => p.yTicks[i] },
          title: { display: !!p.yTitle, text: p.yTitle || '', color: COL.text, font: font(6.8), padding: { top: p.yTitlePad || 0, bottom: 0 } }
        }
      }
    },
    plugins: [framePlugin]
  });
}

function densityPanel(box, xRange, xTicks, yRange, yTicks, ref, unc, dry, wet, extra) {
  panel(Object.assign({
    box, xRange, xTicks, yRange, yTicks,
    datasets: [curve(wet, COL.blue, 1), curve(dry, COL.red, 2), curve(unc, COL.black, 3), refLine(ref, yRange[0], yRange[1])]
  }, extra));
}
function scatterPanel(box, xRange, xTicks, ref, dry, mid, wet, r, extra) {
  const yRange = [-2.7, 2.7];
  panel(Object.assign({
    box, xRange, xTicks, yRange, yTicks: spiTicks,
    datasets: [cloud(wet, COL.ptBlue, r), cloud(mid, COL.ptBlack, r), cloud(dry, COL.ptRed, r), refLine(ref, yRange[0], yRange[1])]
  }, extra));
}

// ---------- upper row: densities ----------
densityPanel([63, 66, 292, 265], [-0.095, 2.086], rwl1Ticks, [-0.28, 8.3], densTicksRwl1, refLevels[0], rwl1Uncond, rwl1Dry, rwl1Wet, { yTickPad: 4, yTitle: densityTitle, yTitlePad: 14 });
densityPanel([330, 67, 555, 266], [-3.39, 6.39], rwl2Ticks, [-0.09, 1.04], densTicksRwl2, refLevels[1], rwl2Uncond, rwl2Dry, rwl2Wet, { yTickPad: 2 });
densityPanel([592, 68, 822, 269], [102.81, 107.19], gwlTicks, [-0.064, 2.085], densTicksGwl, refLevels[2], gwlaUncond, gwlaDry, gwlaWet, { yTickPad: 1 });
densityPanel([860, 67, 1088, 269], [102.83, 107.15], gwlTicks, [-0.075, 2.085], densTicksGwl, refLevels[3], gwlbUncond, gwlbDry, gwlbWet, { yTickPad: 2 });

// ---------- lower row: SPI30D against level ----------
scatterPanel([65, 285, 292, 487], [-0.076, 2.086], rwl1Ticks, refLevels[0], rwl1Dry_pts, rwl1Mid_pts, rwl1Wet_pts, 1.55, { yTickPad: 13, yTitle: spiTitle, yTitlePad: 14, xTitle: xAxisTitles[0], xTitlePad: 7, xTickPad: 4 });
scatterPanel([331, 284, 558, 486], [-3.33, 6.38], rwl2Ticks, refLevels[1], rwl2Dry_pts, rwl2Mid_pts, rwl2Wet_pts, 1.85, { yTickPad: 4, xTitle: xAxisTitles[1], xTitlePad: 6, xTickPad: 5 });
scatterPanel([593, 286, 821, 487], [102.83, 107.17], gwlTicks, refLevels[2], gwlaDry_pts, gwlaMid_pts, gwlaWet_pts, 1.4, { yTickPad: 5, xTitle: xAxisTitles[2], xTitlePad: 5, xTickPad: 5 });
scatterPanel([858, 283, 1088, 487], [102.81, 107.17], gwlTicks, refLevels[3], gwlbDry_pts, gwlbMid_pts, gwlbWet_pts, 1.4, { yTickPad: 4, xTitle: xAxisTitles[3], xTitlePad: 5, xTickPad: 5 });

// ---------- panel headings ----------
const titleLeft = [60, 327, 593, 862];
panelTitles.forEach((t, i) => {
  const d = document.createElement('div');
  d.className = 'panel-title';
  d.style.left = titleLeft[i] + 'px';
  d.textContent = t;
  document.body.appendChild(d);
});

// ---------- shared legend ----------
const legend = document.getElementById('legend');
const rowTop = [4, 21, 37];
seriesNames.forEach((name, i) => {
  const row = document.createElement('div');
  row.className = 'row';
  row.style.top = rowTop[i] + 'px';
  const sw = document.createElement('span');
  sw.className = 'swatch';
  sw.style.background = seriesColors[i];
  const lb = document.createElement('span');
  lb.className = 'label';
  lb.textContent = name;
  row.appendChild(sw); row.appendChild(lb);
  legend.appendChild(row);
});
</script>
</body>
</html>
